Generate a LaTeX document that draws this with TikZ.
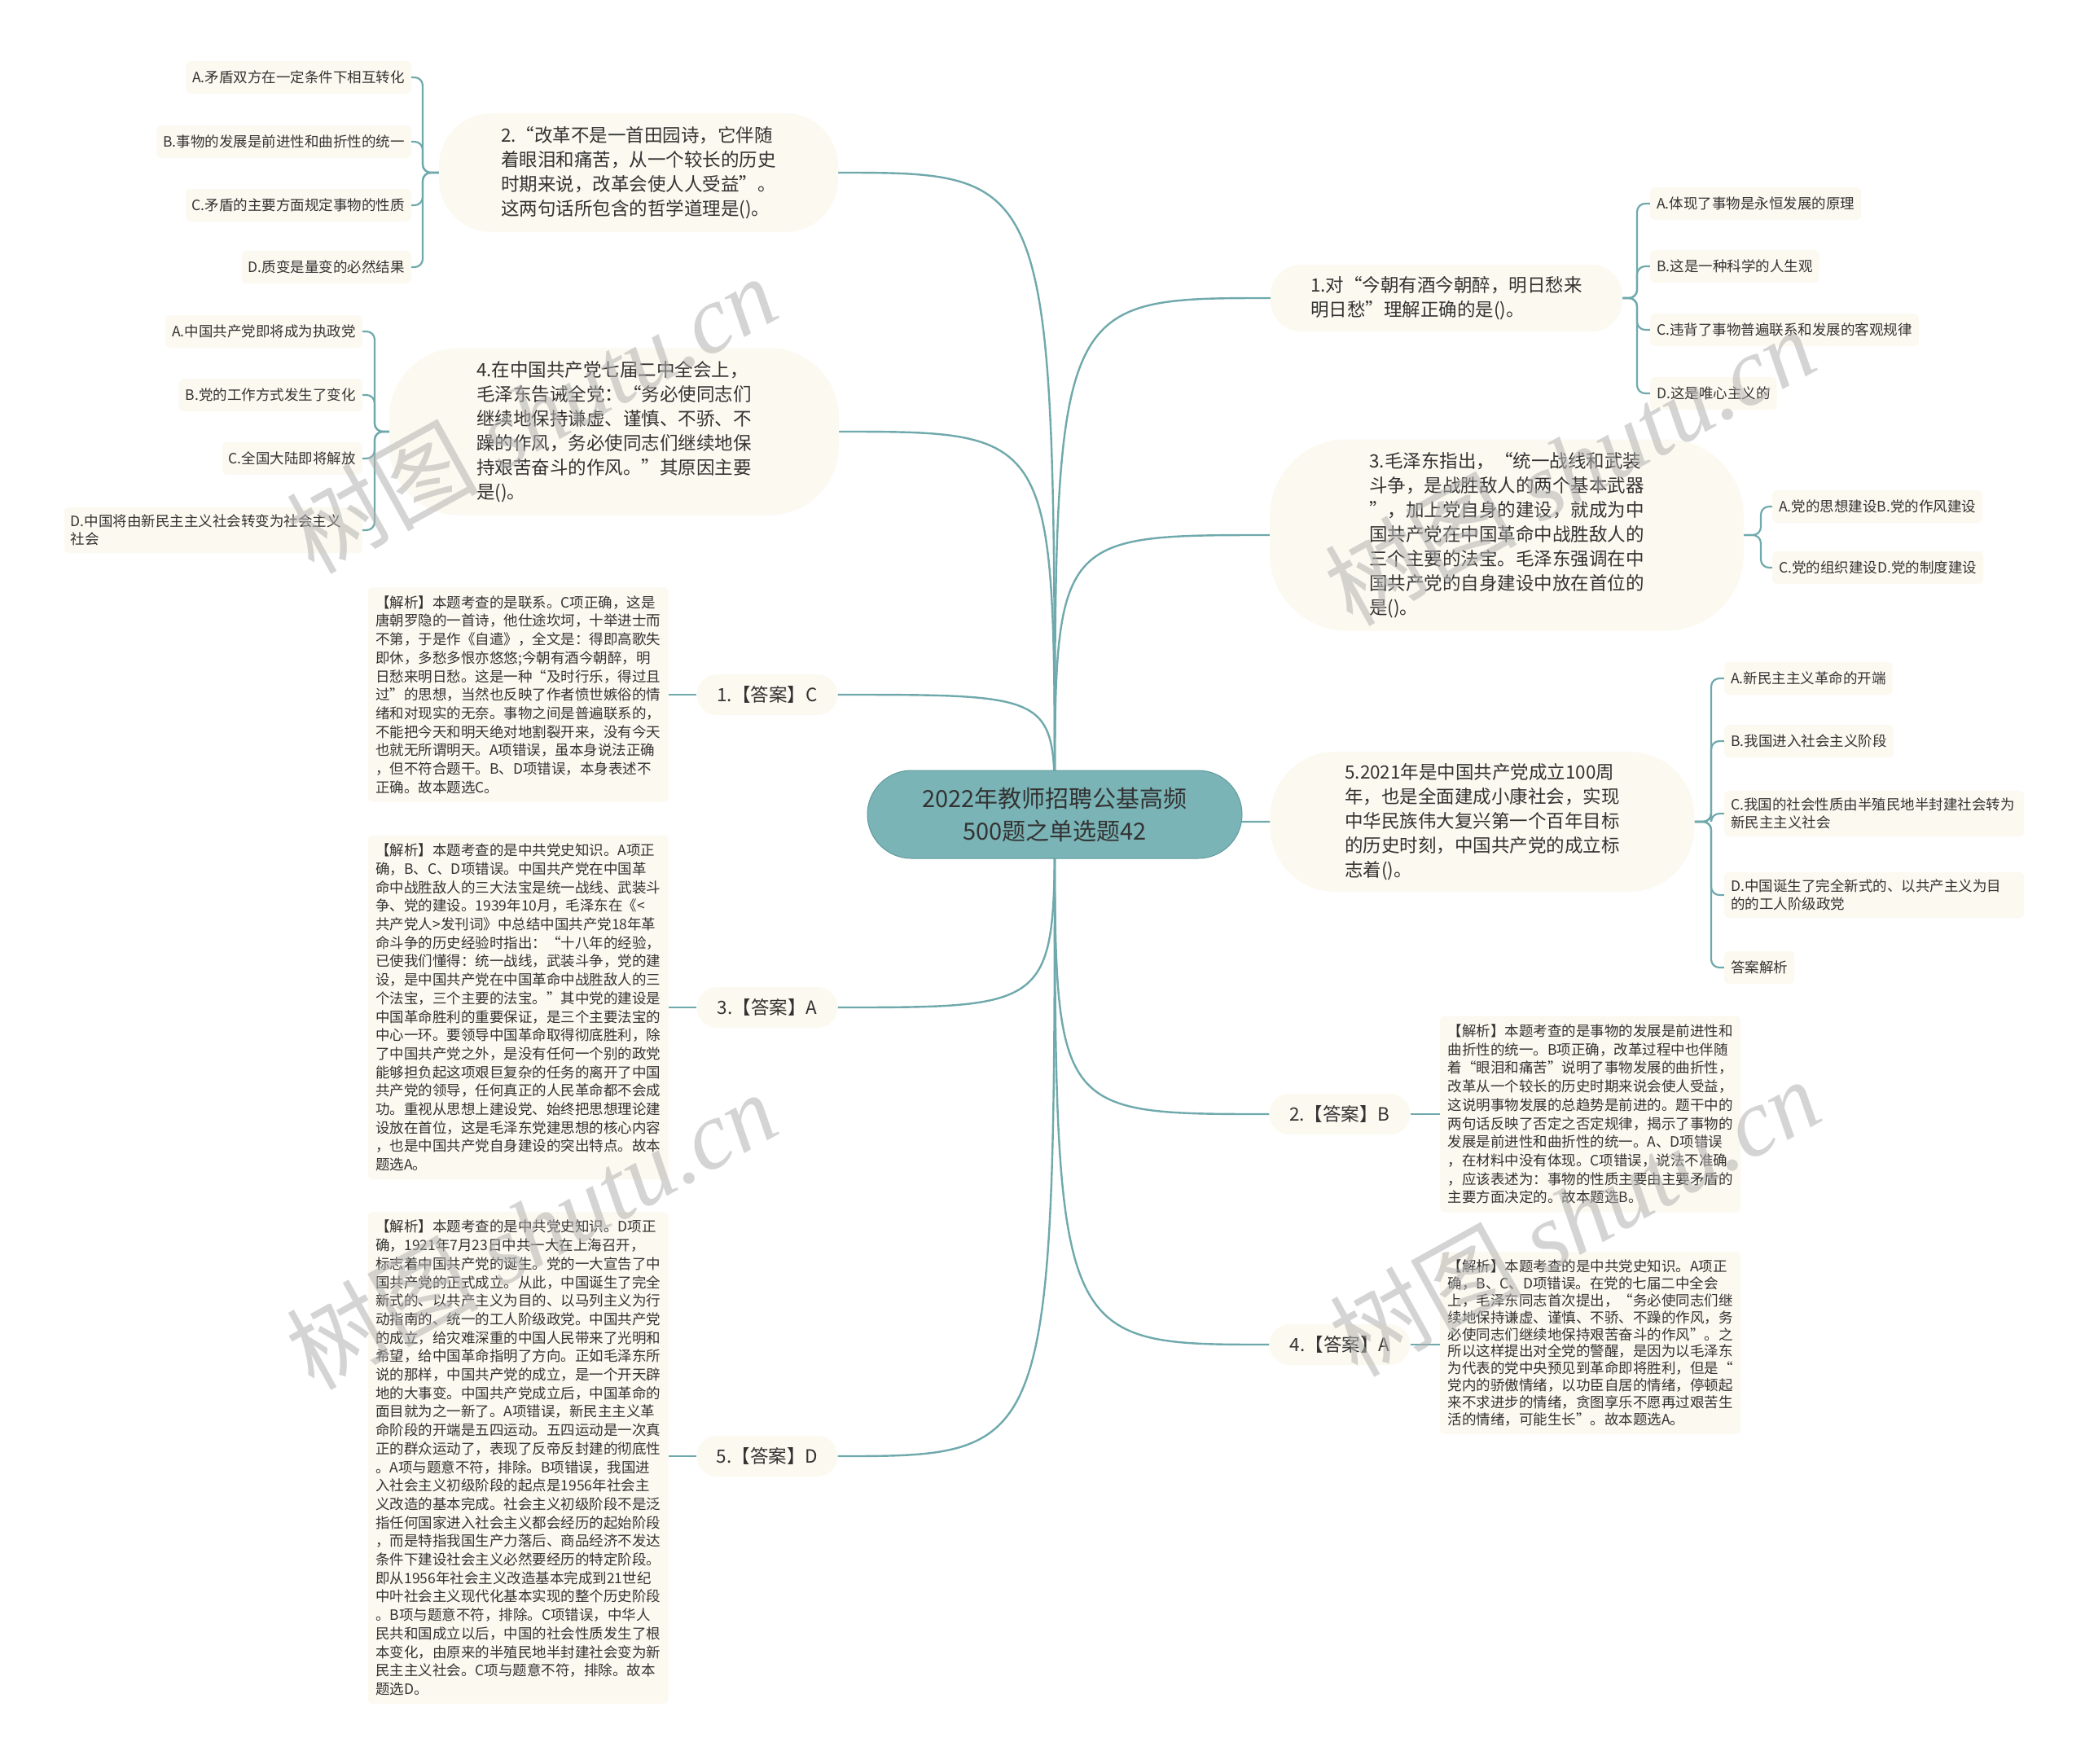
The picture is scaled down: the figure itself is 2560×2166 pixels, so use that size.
\documentclass[tikz,border=0pt]{standalone}
\usepackage{fontspec}
\setmainfont{Noto Sans CJK SC}
\newfontfamily\wmserif{Liberation Serif}
\definecolor{lnc}{HTML}{6FA9AC}
\definecolor{ctrfill}{HTML}{7BB4B6}
\definecolor{ctrdraw}{HTML}{5E9A9C}
\definecolor{cream}{HTML}{FCF9F0}
\definecolor{txt}{HTML}{333333}
\pgfdeclarelayer{back}
\pgfdeclarelayer{bg}
\pgfsetlayers{back,bg,main}
\begin{document}
\begin{tikzpicture}[x=1pt,y=-1pt,
  qnode/.style={fill=cream, text=txt, align=left, inner sep=0pt, font=\fontsize{22.5}{30}\selectfont},
  anode/.style={fill=cream, text=txt, inner sep=0pt, minimum width=173pt, minimum height=50pt, rounded corners=25pt, font=\fontsize{22.5}{30}\selectfont},
  expl/.style={fill=cream, text=txt, align=left, inner xsep=9.5pt, inner ysep=10pt, rounded corners=6pt, font=\fontsize{17.5}{22.7}\selectfont},
  opt/.style={fill=cream, text=txt, align=left, inner xsep=8pt, inner ysep=9pt, minimum height=40pt, rounded corners=6pt, font=\fontsize{17.5}{22}\selectfont},
  link/.style={draw=lnc, line width=2.4pt},
  olink/.style={draw=lnc, line width=2.2pt, rounded corners=10pt},
  wmark/.style={rotate=29, text=black!30, opacity=0.55, font=\fontsize{118}{118}\selectfont},
]
\begin{pgfonlayer}{back}
\fill[white] (0,0) rectangle (2560,2166);
\end{pgfonlayer}
\useasboundingbox (0,0) rectangle (2560,2166);

% center
\node[fill=ctrfill, draw=ctrdraw, line width=1pt, text=black!80, align=center, minimum width=460pt, minimum height=108pt, rounded corners=54pt, inner sep=0pt, font=\fontsize{29}{40}\selectfont] (ctr) at (1295,1000) {2022年教师招聘公基高频\\500题之单选题42};

% ---------- left side ----------
\node[qnode, minimum width=490pt, minimum height=146pt, rounded corners=65pt] (q2) at (784,212) {2.“改革不是一首田园诗，它伴随\\着眼泪和痛苦，从一个较长的历史\\时期来说，改革会使人人受益”。\\这两句话所包含的哲学道理是()。};
\node[opt, anchor=east] (q2a) at (505,95) {A.矛盾双方在一定条件下相互转化};
\node[opt, anchor=east] (q2b) at (505,174) {B.事物的发展是前进性和曲折性的统一};
\node[opt, anchor=east] (q2c) at (505,252) {C.矛盾的主要方面规定事物的性质};
\node[opt, anchor=east] (q2d) at (505,328) {D.质变是量变的必然结果};

\node[qnode, minimum width=552pt, minimum height=205pt, rounded corners=85pt] (q4) at (754,530) {4.在中国共产党七届二中全会上，\\毛泽东告诫全党：“务必使同志们\\继续地保持谦虚、谨慎、不骄、不\\躁的作风，务必使同志们继续地保\\持艰苦奋斗的作风。”其原因主要\\是()。};
\node[opt, anchor=east] (q4a) at (445,407) {A.中国共产党即将成为执政党};
\node[opt, anchor=east] (q4b) at (445,485) {B.党的工作方式发生了变化};
\node[opt, anchor=east] (q4c) at (445,563) {C.全国大陆即将解放};
\node[opt, anchor=east, text width=350pt] (q4d) at (445,651) {D.中国将由新民主主义社会转变为社会主义\\社会};

\node[anode] (a1) at (942,853) {1.【答案】C};
\node[expl, anchor=east] (e1) at (821,853) {【解析】本题考查的是联系。C项正确，这是\\唐朝罗隐的一首诗，他仕途坎坷，十举进士而\\不第，于是作《自遣》，全文是：得即高歌失\\即休，多愁多恨亦悠悠;今朝有酒今朝醉，明\\日愁来明日愁。这是一种“及时行乐，得过且\\过”的思想，当然也反映了作者愤世嫉俗的情\\绪和对现实的无奈。事物之间是普遍联系的，\\不能把今天和明天绝对地割裂开来，没有今天\\也就无所谓明天。A项错误，虽本身说法正确\\，但不符合题干。B、D项错误，本身表述不\\正确。故本题选C。};

\node[anode] (a3) at (942,1237) {3.【答案】A};
\node[expl, anchor=east] (e3) at (821,1237) {【解析】本题考查的是中共党史知识。A项正\\确，B、C、D项错误。中国共产党在中国革\\命中战胜敌人的三大法宝是统一战线、武装斗\\争、党的建设。1939年10月，毛泽东在《<\\共产党人>发刊词》中总结中国共产党18年革\\命斗争的历史经验时指出：“十八年的经验，\\已使我们懂得：统一战线，武装斗争，党的建\\设，是中国共产党在中国革命中战胜敌人的三\\个法宝，三个主要的法宝。”其中党的建设是\\中国革命胜利的重要保证，是三个主要法宝的\\中心一环。要领导中国革命取得彻底胜利，除\\了中国共产党之外，是没有任何一个别的政党\\能够担负起这项艰巨复杂的任务的离开了中国\\共产党的领导，任何真正的人民革命都不会成\\功。重视从思想上建设党、始终把思想理论建\\设放在首位，这是毛泽东党建思想的核心内容\\，也是中国共产党自身建设的突出特点。故本\\题选A。};

\node[anode] (a5) at (942,1788) {5.【答案】D};
\node[expl, anchor=east] (e5) at (821,1790) {【解析】本题考查的是中共党史知识。D项正\\确，1921年7月23日中共一大在上海召开，\\标志着中国共产党的诞生。党的一大宣告了中\\国共产党的正式成立。从此，中国诞生了完全\\新式的、以共产主义为目的、以马列主义为行\\动指南的、统一的工人阶级政党。中国共产党\\的成立，给灾难深重的中国人民带来了光明和\\希望，给中国革命指明了方向。正如毛泽东所\\说的那样，中国共产党的成立，是一个开天辟\\地的大事变。中国共产党成立后，中国革命的\\面目就为之一新了。A项错误，新民主主义革\\命阶段的开端是五四运动。五四运动是一次真\\正的群众运动了，表现了反帝反封建的彻底性\\。A项与题意不符，排除。B项错误，我国进\\入社会主义初级阶段的起点是1956年社会主\\义改造的基本完成。社会主义初级阶段不是泛\\指任何国家进入社会主义都会经历的起始阶段\\，而是特指我国生产力落后、商品经济不发达\\条件下建设社会主义必然要经历的特定阶段。\\即从1956年社会主义改造基本完成到21世纪\\中叶社会主义现代化基本实现的整个历史阶段\\。B项与题意不符，排除。C项错误，中华人\\民共和国成立以后，中国的社会性质发生了根\\本变化，由原来的半殖民地半封建社会变为新\\民主主义社会。C项与题意不符，排除。故本\\题选D。};

% ---------- right side ----------
\node[qnode, minimum width=432pt, minimum height=82pt, rounded corners=38pt] (q1) at (1776,366) {1.对“今朝有酒今朝醉，明日愁来\\明日愁”理解正确的是()。};
\node[opt, anchor=west] (q1a) at (2026,250) {A.体现了事物是永恒发展的原理};
\node[opt, anchor=west] (q1b) at (2026,327) {B.这是一种科学的人生观};
\node[opt, anchor=west] (q1c) at (2026,405) {C.违背了事物普遍联系和发展的客观规律};
\node[opt, anchor=west] (q1d) at (2026,483) {D.这是唯心主义的};

\node[qnode, minimum width=582pt, minimum height=235pt, rounded corners=95pt] (q3) at (1850,657) {3.毛泽东指出，“统一战线和武装\\斗争，是战胜敌人的两个基本武器\\”，加上党自身的建设，就成为中\\国共产党在中国革命中战胜敌人的\\三个主要的法宝。毛泽东强调在中\\国共产党的自身建设中放在首位的\\是()。};
\node[opt, anchor=west] (q3a) at (2176,622) {A.党的思想建设B.党的作风建设};
\node[opt, anchor=west] (q3b) at (2176,697) {C.党的组织建设D.党的制度建设};

\node[qnode, minimum width=521pt, minimum height=172pt, rounded corners=80pt] (q5) at (1820,1009) {5.2021年是中国共产党成立100周\\年，也是全面建成小康社会，实现\\中华民族伟大复兴第一个百年目标\\的历史时刻，中国共产党的成立标\\志着()。};
\node[opt, anchor=west] (q5a) at (2117,833) {A.新民主主义革命的开端};
\node[opt, anchor=west] (q5b) at (2117,910) {B.我国进入社会主义阶段};
\node[opt, anchor=west, text width=352pt] (q5c) at (2117,999) {C.我国的社会性质由半殖民地半封建社会转为\\新民主主义社会};
\node[opt, anchor=west, text width=352pt] (q5d) at (2117,1099) {D.中国诞生了完全新式的、以共产主义为目\\的的工人阶级政党};
\node[opt, anchor=west] (q5e) at (2117,1188) {答案解析};

\node[anode] (a2) at (1645,1368) {2.【答案】B};
\node[expl, anchor=west] (e2) at (1768,1368) {【解析】本题考查的是事物的发展是前进性和\\曲折性的统一。B项正确，改革过程中也伴随\\着“眼泪和痛苦”说明了事物发展的曲折性，\\改革从一个较长的历史时期来说会使人受益，\\这说明事物发展的总趋势是前进的。题干中的\\两句话反映了否定之否定规律，揭示了事物的\\发展是前进性和曲折性的统一。A、D项错误\\，在材料中没有体现。C项错误，说法不准确\\，应该表述为：事物的性质主要由主要矛盾的\\主要方面决定的。故本题选B。};

\node[anode] (a4) at (1645,1651) {4.【答案】A};
\node[expl, anchor=west, font=\fontsize{17.5}{20.8}\selectfont] (e4) at (1768,1649) {【解析】本题考查的是中共党史知识。A项正\\确，B、C、D项错误。在党的七届二中全会\\上，毛泽东同志首次提出，“务必使同志们继\\续地保持谦虚、谨慎、不骄、不躁的作风，务\\必使同志们继续地保持艰苦奋斗的作风”。之\\所以这样提出对全党的警醒，是因为以毛泽东\\为代表的党中央预见到革命即将胜利，但是“\\党内的骄傲情绪，以功臣自居的情绪，停顿起\\来不求进步的情绪，贪图享乐不愿再过艰苦生\\活的情绪，可能生长”。故本题选A。};

% ---------- connectors ----------
\begin{pgfonlayer}{bg}
\draw[link] (ctr.center) .. controls (1295,212) .. (q2.east);
\draw[link] (ctr.center) .. controls (1295,530) .. (q4.east);
\draw[link] (ctr.center) .. controls (1295,853) .. (a1.east);
\draw[link] (ctr.center) .. controls (1295,1237) .. (a3.east);
\draw[link] (ctr.center) .. controls (1295,1788) .. (a5.east);
\draw[link] (ctr.center) .. controls (1295,366) .. (q1.west);
\draw[link] (ctr.center) .. controls (1295,657) .. (q3.west);
\draw[link] (ctr.center) .. controls (1295,1009) .. (q5.west);
\draw[link] (ctr.center) .. controls (1295,1368) .. (a2.west);
\draw[link] (ctr.center) .. controls (1295,1651) .. (a4.west);

\draw[link] (a1.west) -- (e1.east);
\draw[link] (a3.west) -- (e3.east);
\draw[link] (a5.west) -- (a5.west -| e5.east);
\draw[link] (a2.east) -- (e2.west);
\draw[link] (a4.east) -- (a4.east -| e4.west);

\foreach \o in {q2a,q2b,q2c,q2d}
  \draw[olink] (q2.west) -- (519,212) |- (\o.east);
\foreach \o in {q4a,q4b,q4c,q4d}
  \draw[olink] (q4.west) -- (460,530) |- (\o.east);
\foreach \o in {q1a,q1b,q1c,q1d}
  \draw[olink] (q1.east) -- (2010,366) |- (\o.west);
\foreach \o in {q3a,q3b}
  \draw[olink] (q3.east) -- (2162,657) |- (\o.west);
\foreach \o in {q5a,q5b,q5c,q5d,q5e}
  \draw[olink] (q5.east) -- (2101,1009) |- (\o.west);
\end{pgfonlayer}

% ---------- watermarks ----------
\node[wmark] (wm1) at (652,508) {树图 {\wmserif\itshape shutu.cn}};
\node[wmark] (wm2) at (1927,572) {树图 {\wmserif\itshape shutu.cn}};
\node[wmark] (wm3) at (652,1510) {树图 {\wmserif\itshape shutu.cn}};
\node[wmark] (wm4) at (1933,1494) {树图 {\wmserif\itshape shutu.cn}};
\end{tikzpicture}
\end{document}
